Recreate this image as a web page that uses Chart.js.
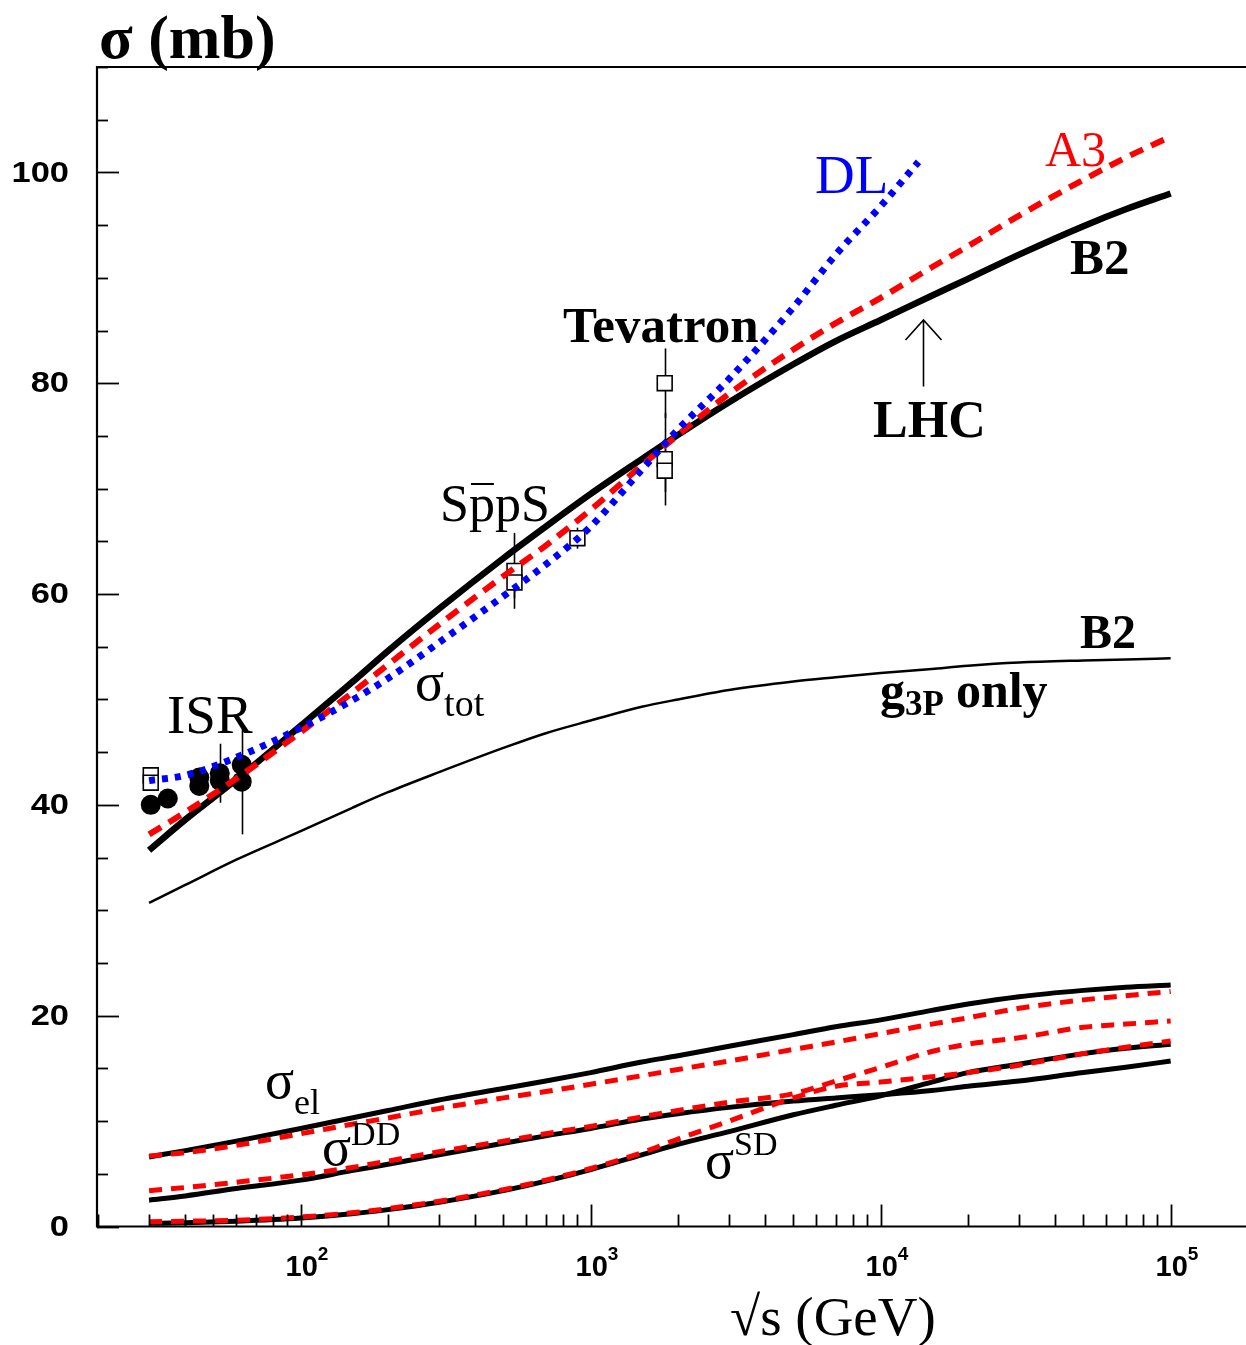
<!DOCTYPE html>
<html>
<head>
<meta charset="utf-8">
<script src="https://cdn.jsdelivr.net/npm/chart.js@4.4.0/dist/chart.umd.min.js"></script>
<style>
  html, body { margin: 0; padding: 0; background: #fff; }
</style>
</head>
<body>
<canvas id="xsChart" width="1246" height="1345"></canvas>
<script>
// sqrt(s) grid (GeV) shared by the model curves
var energies = [30, 40, 60, 100, 150, 200, 300, 500, 700, 1000, 1500, 2000, 3000, 5000, 7000, 10000, 15000, 20000, 30000, 50000, 70000, 100000]

// total cross sections (mb)
var totB2 = [35.7, 38.6, 42.4, 47.5, 51.6, 54.6, 58.6, 63.4, 66.4, 69.5, 72.8, 75.1, 78.2, 81.8, 84.0, 86.0, 88.3, 89.9, 92.2, 94.9, 96.5, 98.0]
var totA3 = [37.2, 39.3, 42.5, 46.9, 50.6, 53.3, 57.1, 61.7, 64.6, 68.0, 72.2, 75.1, 79.0, 83.2, 85.7, 88.1, 91.0, 93.0, 95.9, 99.3, 101.4, 103.4]
var g3pOnly = [30.7, 32.4, 34.8, 37.5, 39.7, 41.2, 43.1, 45.4, 46.8, 48.0, 49.3, 50.0, 50.9, 51.7, 52.1, 52.5, 52.9, 53.2, 53.5, 53.7, 53.8, 53.9]

// Donnachie-Landshoff stops earlier
var dlEnergies = [30, 40, 60, 100, 150, 200, 300, 500, 700, 1000, 1500, 2000, 3000, 5000, 7000, 10000, 13500]
var totDL = [42.3, 42.8, 44.5, 47.3, 49.9, 52.0, 55.4, 59.8, 62.8, 66.4, 71.8, 75.6, 80.4, 87.2, 92.2, 96.8, 101.0]

// elastic, double and single diffractive (mb)
var elB2 = [6.6, 7.2, 8.1, 9.3, 10.3, 11.0, 12.0, 13.1, 13.8, 14.6, 15.6, 16.2, 17.1, 18.2, 18.95, 19.6, 20.5, 21.1, 21.8, 22.4, 22.7, 22.9]
var elA3 = [6.7, 7.0, 7.7, 8.8, 9.7, 10.3, 11.2, 12.2, 12.8, 13.5, 14.3, 14.9, 15.7, 16.8, 17.5, 18.3, 19.2, 19.8, 20.7, 21.5, 21.9, 22.3]
var ddB2 = [2.5, 2.9, 3.6, 4.4, 5.3, 5.9, 6.8, 7.9, 8.6, 9.3, 10.2, 10.7, 11.3, 11.9, 12.2, 12.5, 12.9, 13.3, 13.8, 14.6, 15.1, 15.7]
var ddA3 = [3.4, 3.7, 4.2, 4.9, 5.6, 6.2, 7.1, 8.1, 8.8, 9.5, 10.4, 11.0, 11.8, 12.6, 13.8, 15.1, 16.6, 17.3, 17.9, 18.9, 19.2, 19.5]
var sdB2 = [0.3, 0.35, 0.5, 0.8, 1.2, 1.6, 2.3, 3.4, 4.3, 5.4, 6.8, 7.8, 9.0, 10.6, 11.5, 12.4, 13.7, 14.6, 15.4, 16.4, 16.9, 17.3]
var sdA3 = [0.45, 0.5, 0.6, 0.9, 1.3, 1.7, 2.4, 3.5, 4.4, 5.5, 7.0, 8.3, 10.0, 12.2, 13.3, 13.7, 14.2, 14.6, 15.3, 16.4, 17.0, 17.6]

// measurements: open squares (with errors) and ISR filled points
var sqE = [30.4, 30.4, 546, 546, 900, 1800, 1800, 1800]
var sqSig = [42.8, 42.1, 62.2, 61.1, 65.3, 80.0, 72.8, 71.7]
var sqErr = [0.4, 0.4, 3.6, 1.5, 1.0, 3.3, 4.4, 2.0]
var isrE = [30.4, 34.8, 44.7, 44.7, 52.6, 52.6, 62.6, 62.6]
var isrSig = [40.0, 40.6, 41.8, 42.6, 42.3, 43.0, 42.2, 43.8]
var isrErr = [0, 0, 0, 0, 0, 2.8, 5.0, 0]

var yTicks = [0, 20, 40, 60, 80, 100]
var xDecades = [2, 3, 4, 5]
var lhcEnergy = 14000

function pts(xs, ys) {
    return xs.map(function (x, i) { return { x: x, y: ys[i] } })
}

function curve(label, xs, ys, color, width, dash, order) {
    return {
        type: 'line', label: label, data: pts(xs, ys),
        borderColor: color, borderWidth: width, borderDash: dash || [],
        borderCapStyle: 'butt', pointRadius: 0, fill: false,
        cubicInterpolationMode: 'monotone', order: order
    }
}

var RED = '#ff0000', BLUE = '#0000ff', BLACK = '#000000'
var serif = '"Liberation Serif", "DejaVu Serif", serif'
var sans = '"Liberation Sans", Arial, sans-serif'

function rich(ctx, x, y, parts, color) {
    ctx.fillStyle = color || BLACK
    ctx.textAlign = 'left'
    ctx.textBaseline = 'alphabetic'
    parts.forEach(function (p) {
        ctx.font = p[1]
        ctx.fillText(p[0], x, y + (p[2] || 0))
        x += ctx.measureText(p[0]).width + (p[3] || 0)
    })
}

var decor = {
    id: 'decor',
    beforeDatasetsDraw: function (chart) {
        var ctx = chart.ctx, xs = chart.scales.x, ys = chart.scales.y
        ctx.save()
        ctx.strokeStyle = BLACK
        ctx.lineWidth = 1.6
        function bar(e, s, err) {
            if (!err) return
            var px = Math.round(xs.getPixelForValue(e)) + 0.5
            ctx.beginPath()
            ctx.moveTo(px, ys.getPixelForValue(s - err))
            ctx.lineTo(px, ys.getPixelForValue(s + err))
            ctx.stroke()
        }
        sqE.forEach(function (e, i) { bar(e, sqSig[i], sqErr[i]) })
        isrE.forEach(function (e, i) { bar(e, isrSig[i], isrErr[i]) })
        ctx.restore()
    },
    afterDraw: function (chart) {
        var ctx = chart.ctx, a = chart.chartArea
        var xs = chart.scales.x, ys = chart.scales.y
        ctx.save()
        ctx.strokeStyle = BLACK
        ctx.lineWidth = 2.2
        ctx.beginPath()
        ctx.moveTo(a.right, a.top); ctx.lineTo(a.left, a.top)
        ctx.lineTo(a.left, a.bottom); ctx.lineTo(a.right, a.bottom)
        ctx.stroke()

        // y ticks: minor every 5, major every 20
        ctx.lineWidth = 1.8
        for (var v = 0; v <= 110; v += 5) {
            var py = Math.round(ys.getPixelForValue(v)) + 0.5
            var len = v % 20 === 0 ? 22 : 11
            ctx.beginPath(); ctx.moveTo(a.left, py); ctx.lineTo(a.left + len, py); ctx.stroke()
        }
        // x ticks: decades and 2..9 in between
        for (var d = 1; d <= 5; d++) {
            for (var m = 1; m <= 9; m++) {
                var val = m * Math.pow(10, d)
                if (val < xs.min || val > xs.max) continue
                var px = Math.round(xs.getPixelForValue(val)) + 0.5
                var l = m === 1 ? 22 : 12
                ctx.beginPath(); ctx.moveTo(px, a.bottom); ctx.lineTo(px, a.bottom - l); ctx.stroke()
            }
        }

        // tick labels (wide bold sans, as in the original)
        ctx.fillStyle = BLACK
        ctx.font = 'bold 30px ' + sans
        ctx.textAlign = 'right'
        ctx.textBaseline = 'middle'
        yTicks.forEach(function (t) {
            ctx.save()
            ctx.translate(69, ys.getPixelForValue(t) + 1)
            ctx.scale(1.15, 1)
            ctx.fillText(String(t), 0, 0)
            ctx.restore()
        })
        xDecades.forEach(function (d) {
            var px = xs.getPixelForValue(Math.pow(10, d))
            ctx.textBaseline = 'alphabetic'
            ctx.textAlign = 'center'
            ctx.font = 'bold 29px ' + sans
            ctx.fillText('10', px + 1, a.bottom + 49)
            ctx.textAlign = 'left'
            ctx.font = 'bold 19px ' + sans
            ctx.fillText(String(d), px + 17, a.bottom + 33)
        })

        // axis titles
        rich(ctx, 99, 58, [['σ (mb)', 'bold 62px ' + serif]])
        rich(ctx, 730, 1335, [['√s (GeV)', '55px ' + serif]])

        // curve and experiment labels
        rich(ctx, 815, 193, [['DL', '55px ' + serif]], BLUE)
        rich(ctx, 1045, 166, [['A3', '50px ' + serif]], RED)
        rich(ctx, 1070, 274, [['B2', 'bold 51px ' + serif]])
        rich(ctx, 563, 342, [['Tevatron', 'bold 51px ' + serif]])
        rich(ctx, 873, 437, [['LHC', 'bold 52px ' + serif]])
        rich(ctx, 167, 733, [['ISR', '55px ' + serif]])
        rich(ctx, 1080, 648, [['B2', 'bold 48px ' + serif]])
        rich(ctx, 880, 707, [['g', 'bold 50px ' + serif], ['3P', 'bold 35px ' + serif, 8, 12], ['only', 'bold 50px ' + serif]])
        rich(ctx, 415, 700, [['σ', '54px ' + serif], ['tot', '38px ' + serif, 16]])
        rich(ctx, 265, 1098, [['σ', '54px ' + serif], ['el', '36px ' + serif, 16]])
        rich(ctx, 322, 1165, [['σ', '54px ' + serif], ['DD', '34px ' + serif, -20]])
        rich(ctx, 705, 1178, [['σ', '54px ' + serif], ['SD', '34px ' + serif, -23]])

        // Sp(bar)pS
        ctx.font = '52px ' + serif
        var sW = ctx.measureText('S').width, pW = ctx.measureText('p').width
        rich(ctx, 440, 521, [['SppS', '52px ' + serif]])
        ctx.lineWidth = 2
        ctx.beginPath()
        ctx.moveTo(440 + sW + 2, 484); ctx.lineTo(440 + sW + pW - 1, 484)
        ctx.stroke()

        // LHC arrow
        var ax = Math.round(xs.getPixelForValue(lhcEnergy)) + 0.5
        ctx.lineWidth = 1.6
        ctx.beginPath()
        ctx.moveTo(ax, ys.getPixelForValue(79.7)); ctx.lineTo(ax, ys.getPixelForValue(86.0))
        ctx.moveTo(ax - 18, ys.getPixelForValue(84.1)); ctx.lineTo(ax, ys.getPixelForValue(86.0)); ctx.lineTo(ax + 18, ys.getPixelForValue(84.1))
        ctx.stroke()
        ctx.restore()
    }
}

var ctx = document.getElementById('xsChart')
var chart = new Chart(ctx, {
    data: {
        datasets: [
            curve('DL', dlEnergies, totDL, BLUE, 7, [6, 7], 0),
            curve('A3 tot', energies, totA3, RED, 6, [14, 9], 1),
            curve('A3 el', energies, elA3, RED, 5, [13, 9], 1),
            curve('A3 DD', energies, ddA3, RED, 5, [13, 9], 1),
            curve('A3 SD', energies, sdA3, RED, 5, [13, 9], 1),
            curve('B2 tot', energies, totB2, BLACK, 6.5, null, 2),
            curve('B2 el', energies, elB2, BLACK, 5, null, 2),
            curve('B2 DD', energies, ddB2, BLACK, 5, null, 2),
            curve('B2 SD', energies, sdB2, BLACK, 5, null, 2),
            curve('B2 g3P only', energies, g3pOnly, BLACK, 2.5, null, 3),
            {
                type: 'scatter', label: 'ISR', data: pts(isrE, isrSig), order: 4,
                pointStyle: 'circle', pointRadius: 10, backgroundColor: BLACK, borderColor: BLACK, borderWidth: 0
            },
            {
                type: 'scatter', label: 'data', data: pts(sqE, sqSig), order: 5,
                pointStyle: 'rect', pointRadius: 10.5, backgroundColor: '#ffffff', borderColor: BLACK, borderWidth: 1.6
            }
        ]
    },
    options: {
        responsive: false,
        animation: false,
        devicePixelRatio: 1,
        layout: { autoPadding: false, padding: { left: 97, top: 67, right: 0, bottom: 118.5 } },
        plugins: { legend: { display: false }, tooltip: { enabled: false } },
        scales: {
            x: { type: 'logarithmic', min: 19.84, max: 181900, display: false },
            y: { type: 'linear', min: 0, max: 110, display: false }
        }
    },
    plugins: [decor]
})
</script>
</body>
</html>
